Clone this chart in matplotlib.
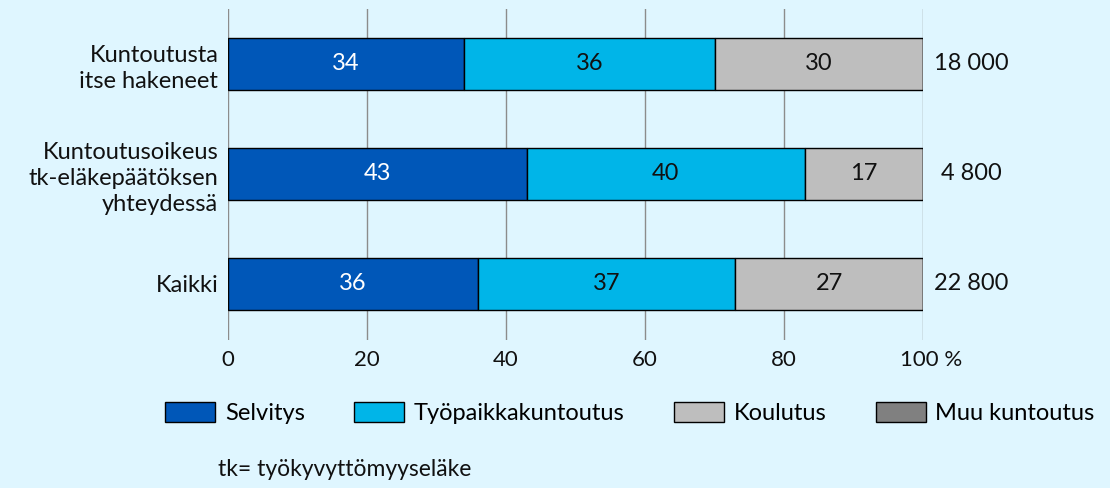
import matplotlib
matplotlib.use("Agg")
import matplotlib.pyplot as plt
import matplotlib.transforms as mtransforms
from matplotlib.patches import Patch

categories = ["Kuntoutusta\nitse hakeneet",
              "Kuntoutusoikeus\ntk-eläkepäätöksen\nyhteydessä",
              "Kaikki"]
series_names = ["Selvitys", "Työpaikkakuntoutus", "Koulutus", "Muu kuntoutus"]
selvitys = [34, 43, 36]
tyopaikka = [36, 40, 37]
koulutus = [30, 17, 27]
muu = [0.3, 0.3, 0.3]
totals = ["18 000", "4 800", "22 800"]
xticks = [0, 20, 40, 60, 80, 100]
xticklabels = ["0", "20", "40", "60", "80", "100 %"]
footnote = "tk= työkyvyttömyyseläke"

colors = ["#0057B8", "#00B5E8", "#BEBEBE", "#808080"]
text_colors = ["white", "#111111", "#111111", None]
bg = "#DFF6FF"

plt.rcParams["font.family"] = ["Lato", "DejaVu Sans"]
fs = 17
fs_tick = 16

W, H = 1110, 488
fig = plt.figure(figsize=(W / 100, H / 100), dpi=100, facecolor=bg)
left, right, top, bottom = 228, 923, 9, 340
ax = fig.add_axes([left / W, 1 - bottom / H, (right - left) / W, (bottom - top) / H])
ax.set_facecolor(bg)

ypos = list(range(len(categories)))
data = [selvitys, tyopaikka, koulutus, muu]
lefts = [0.0] * len(categories)
for vals, col, tcol in zip(data, colors, text_colors):
    ax.barh(ypos, vals, left=lefts, height=0.47, color=col,
            edgecolor="black", linewidth=1, zorder=3)
    if tcol is not None:
        for y, v, l in zip(ypos, vals, lefts):
            ax.text(l + v / 2, y, f"{v:g}", ha="center", va="center",
                    color=tcol, fontsize=fs, zorder=4)
    lefts = [a + b for a, b in zip(lefts, vals)]

for y, t in zip(ypos, totals):
    ax.text(107.0, y, t, ha="center", va="center", fontsize=fs, color="#111111")

ax.set_xlim(0, 100)
ax.set_ylim(2.51, -0.5)
ax.set_yticks(ypos)
ax.set_yticklabels(categories, fontsize=fs, multialignment="right",
                   linespacing=1.3, color="#111111")
ax.set_xticks(xticks)
ax.set_xticklabels(xticklabels, fontsize=fs_tick, color="#111111")
ax.tick_params(axis="both", length=0)
ax.tick_params(axis="x", pad=7)
ax.tick_params(axis="y", pad=7)
for s in ax.spines.values():
    s.set_visible(False)
ax.xaxis.grid(True, color="#8C8C8C", linewidth=1, zorder=0)
ax.set_axisbelow(True)
lbls = ax.get_xticklabels()
offset = mtransforms.ScaledTranslation(8 / 100, 0, fig.dpi_scale_trans)
lbls[-1].set_transform(lbls[-1].get_transform() + offset)

handles = [Patch(facecolor=c, edgecolor="black", linewidth=1) for c in colors]
fig.legend(handles, series_names, loc="center", bbox_to_anchor=(630 / W, 1 - 413 / H),
           ncol=4, frameon=False, fontsize=fs, handlelength=2.1, handleheight=0.93,
           columnspacing=2.1, handletextpad=0.42, borderpad=0, borderaxespad=0)

fig.text(218 / W, 1 - 470 / H, footnote, ha="left", va="center", fontsize=16.5,
         color="#111111")

fig.savefig("out.png", dpi=100, facecolor=bg)
